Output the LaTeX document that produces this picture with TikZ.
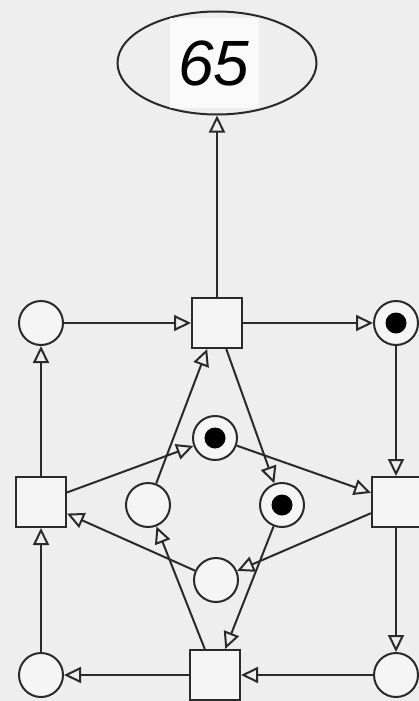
\documentclass[tikz,border=0pt]{standalone}
\usepackage{fontspec}
\setsansfont{Liberation Sans}
\usetikzlibrary{arrows.meta,shapes.geometric}
\definecolor{bg}{RGB}{238,238,238}
\definecolor{ink}{RGB}{42,42,42}
\definecolor{fillc}{RGB}{245,245,245}
\definecolor{paper}{RGB}{250,250,250}
\begin{document}
\begin{tikzpicture}[x=1pt,y=-1pt,
  place/.style={circle,draw=ink,fill=fillc,line width=2pt,minimum size=44pt,inner sep=0pt},
  trans/.style={rectangle,draw=ink,fill=fillc,line width=2pt,minimum size=50pt,inner sep=0pt},
  arc/.style={draw=ink,line width=2pt,-{Triangle[open,length=17pt,width=16pt]}},
  token/.style={circle,fill=black,minimum size=21pt,inner sep=0pt}]
\fill[bg] (0,0) rectangle (419,701);
\useasboundingbox (0,0) rectangle (419,701);
% goal
\node[ellipse,draw=ink,line width=2pt,minimum width=199pt,minimum height=103pt] (goal) at (217,63) {};
\node[fill=paper,minimum width=89pt,minimum height=90pt,inner sep=0pt,font=\sffamily\itshape\fontsize{64}{64}\selectfont] (lbl) at (214,63) {65};
% outer ring
\node[place] (p1) at (41,323) {};
\node[trans] (t1) at (217,323) {};
\node[place] (p2) at (396,323) {};
\node[token] (k2) at (p2.center) {};
\node[trans] (tl) at (41,502) {};
\node[trans] (tr) at (397,502) {};
\node[place] (pbl) at (41,675) {};
\node[trans] (tb) at (215,675) {};
\node[place] (pbr) at (396,675) {};
% inner places
\node[place] (pt) at (215,438) {};
\node[token] (kt) at (pt.center) {};
\node[place] (pl) at (148,505) {};
\node[place] (pr) at (282,505) {};
\node[token] (kr) at (pr.center) {};
\node[place] (pb) at (216,580) {};
% outer arcs
\draw[arc] (t1) -- (goal);
\draw[arc] (p1) -- (t1);
\draw[arc] (t1) -- (p2);
\draw[arc] (p2) -- (p2 |- tr.north);
\draw[arc] (tl) -- (p1);
\draw[arc] (pbl) -- (tl);
\draw[arc] (tr.south -| p2) -- (pbr);
\draw[arc] (pbr) -- (tb);
\draw[arc] (tb) -- (pbl);
% inner arcs
\draw[arc] (pl) -- (t1);
\draw[arc] (t1) -- (pr);
\draw[arc] (tl) -- (pt);
\draw[arc] (pt) -- (tr);
\draw[arc] (tr) -- (pb);
\draw[arc] (pb) -- (tl);
\draw[arc] (tb) -- (pl);
\draw[arc] (pr) -- (tb);
\end{tikzpicture}
\end{document}
